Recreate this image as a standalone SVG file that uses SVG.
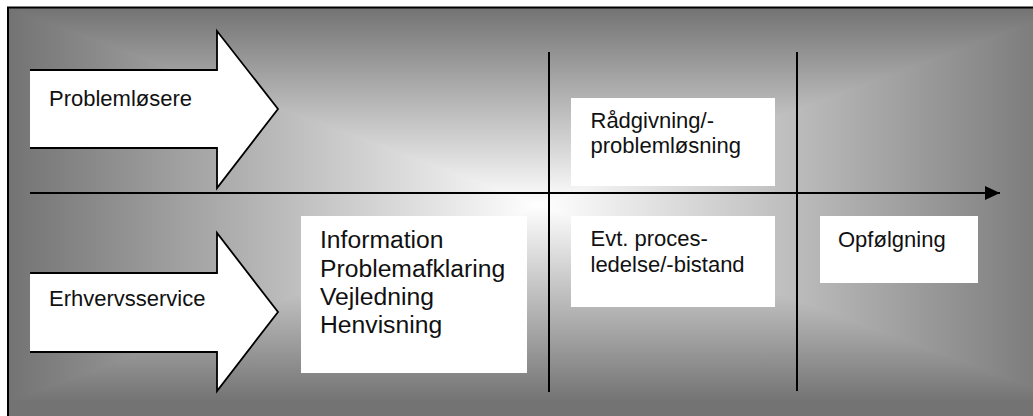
<svg xmlns="http://www.w3.org/2000/svg" width="1033" height="416" viewBox="0 0 1033 416">
  <style>
    .t { font-family: "Liberation Sans", Arial, sans-serif; font-size: 22px; fill: #111; }
    .big { font-size: 24.7px; }
    .box { fill: #ffffff; stroke: none; }
    .arrowfill { fill: #ffffff; stroke: none; }
    .arrowline { fill: none; stroke: #000; stroke-width: 1.8; stroke-linejoin: miter; }
    .conn { stroke: #000; stroke-width: 2; fill: none; }
  </style>
  <defs>
    <linearGradient id="gh" gradientUnits="userSpaceOnUse" x1="8" y1="0" x2="1072" y2="0">
      <stop offset="0" stop-color="#737373"/>
      <stop offset="0.5" stop-color="#ffffff"/>
      <stop offset="1" stop-color="#737373"/>
    </linearGradient>
    <linearGradient id="gv" gradientUnits="userSpaceOnUse" x1="0" y1="8" x2="0" y2="402">
      <stop offset="0" stop-color="#737373"/>
      <stop offset="0.5" stop-color="#ffffff"/>
      <stop offset="1" stop-color="#737373"/>
    </linearGradient>
    <marker id="ah" markerWidth="16" markerHeight="16" refX="15" refY="7" orient="auto" markerUnits="userSpaceOnUse">
      <polygon points="0,0 15,7 0,14" fill="#000"/>
    </marker>
  </defs>

  <g id="background">
    <g style="isolation:isolate">
      <rect x="8" y="8" width="1040" height="420" fill="url(#gh)"/>
      <rect x="8" y="8" width="1040" height="420" fill="url(#gv)" style="mix-blend-mode:darken"/>
    </g>
    <rect x="8" y="7.5" width="1040" height="420" fill="none" stroke="#000" stroke-width="2"/>
  </g>

  <g id="connectors">
    <line class="conn" x1="30" y1="193" x2="1000" y2="193" marker-end="url(#ah)"/>
    <line class="conn" x1="549" y1="52" x2="549" y2="392"/>
    <line class="conn" x1="797" y1="52" x2="797" y2="391"/>
  </g>

  <g id="problemlosere">
    <polygon class="arrowfill" points="30,70 217,70 217,31 278,109 217,188 217,148 30,148"/>
    <polyline class="arrowline" points="30,70 217,70 217,31 278,109 217,188 217,148 30,148"/>
    <text class="t" x="49" y="106">Problemløsere</text>
  </g>

  <g id="erhvervsservice">
    <polygon class="arrowfill" points="30,273 217,273 217,233 278,312 217,391 217,352 30,352"/>
    <polyline class="arrowline" points="30,273 217,273 217,233 278,312 217,391 217,352 30,352"/>
    <text class="t" x="49" y="306">Erhvervsservice</text>
  </g>

  <g id="information">
    <rect class="box" x="301" y="216" width="226" height="157"/>
    <text class="t big" x="320" y="248">Information</text>
    <text class="t big" x="320" y="276.5">Problemafklaring</text>
    <text class="t big" x="320" y="305">Vejledning</text>
    <text class="t big" x="320" y="333.3">Henvisning</text>
  </g>

  <g id="raadgivning">
    <rect class="box" x="571" y="98" width="204" height="88"/>
    <text class="t" x="590.5" y="128">Rådgivning/-</text>
    <text class="t" x="590.5" y="153">problemløsning</text>
  </g>

  <g id="procesledelse">
    <rect class="box" x="571" y="216" width="204" height="91"/>
    <text class="t" x="590.5" y="246">Evt. proces-</text>
    <text class="t" x="590.5" y="271.5">ledelse/-bistand</text>
  </g>

  <g id="opfolgning">
    <rect class="box" x="820" y="216" width="158" height="67"/>
    <text class="t" x="838" y="247">Opfølgning</text>
  </g>
</svg>
